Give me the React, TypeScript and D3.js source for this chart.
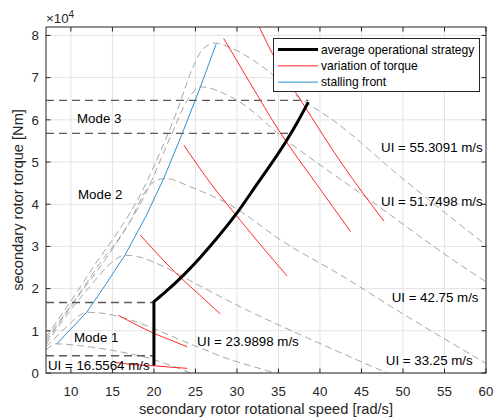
import React from "react";
import * as d3 from "d3";

const W = 497;
const H = 417;
const margin = { left: 46, right: 11, top: 27, bottom: 44 };

const xTicks = [10, 15, 20, 25, 30, 35, 40, 45, 50, 55, 60];
const yTicks = [0, 1, 2, 3, 4, 5, 6, 7, 8];

// [speed rad/s, torque in 10^4 Nm]
const ui16 = [[7, 0.55], [8.3, 0.69], [11, 0.65], [14, 0.57], [17, 0.46], [19.6, 0.34], [22, 0.18], [24.4, 0]];
const ui24 = [[7, 0.62], [9.5, 1.1], [11, 1.36], [11.9, 1.44], [14, 1.41], [17, 1.27], [20, 1.05], [23, 0.8], [26, 0.56], [29, 0.33], [32, 0.15], [34.6, 0]];
const ui33 = [[7, 0.68], [10, 1.5], [12.5, 2.1], [14.8, 2.6], [16.5, 2.79], [18, 2.76], [21.2, 2.52], [25, 2.12], [30.4, 1.57], [40, 0.7], [48.1, 0]];
const ui43 = [[7, 0.74], [11, 1.85], [14, 2.65], [17, 3.55], [19.3, 4.4], [20.5, 4.58], [21.4, 4.61], [24.4, 4.41], [29.2, 3.98], [35.6, 3.11], [42.5, 2.32], [50, 1.4], [60, 0.23]];
const ui52 = [[7, 0.8], [10.8, 1.82], [13.5, 2.6], [16, 3.25], [19, 4.25], [22, 5.6], [24, 6.45], [25.6, 6.78], [29.6, 6.51], [36, 5.51], [46, 4.1], [56.1, 2.67], [60, 2.16]];
const ui55 = [[7, 0.86], [10.4, 1.82], [13, 2.6], [15.5, 3.3], [18.3, 4.2], [20, 4.9], [22.8, 6.22], [24.5, 7.15], [25.6, 7.6], [26.5, 7.77], [27.4, 7.82], [29, 7.73], [32.8, 7.3], [37.65, 6.5], [41.3, 6.03], [50, 4.6], [60, 3.03]];
const uiCurves = [ui16, ui24, ui33, ui43, ui52, ui55];

const torqueVar16 = [[15.3, 0.25], [17.5, 0.2], [20, 0.17], [24, 0.11]];
const torqueVar24 = [[15.7, 1.37], [18, 1.13], [20, 0.94], [22, 0.78], [24, 0.62]];
const torqueVar33 = [[18.35, 3.27], [21, 2.7], [23, 2.3], [25.5, 1.85], [28, 1.4]];
const torqueVar43 = [[23.6, 5.4], [27, 4.45], [30.4, 3.62], [33, 3.0], [36.05, 2.3]];
const torqueVar52 = [[28.4, 7.93], [31.5, 6.9], [35.2, 5.7], [39.5, 4.5], [43.7, 3.35]];
const torqueVar55 = [[32.2, 8.4], [35, 7.3], [37.9, 6.4], [42.5, 5.0], [47.7, 3.6]];
const torqueVars = [torqueVar16, torqueVar24, torqueVar33, torqueVar43, torqueVar52, torqueVar55];

const stallFront = [[8.3, 0.69], [11.9, 1.44], [14.2, 2.1], [16.5, 2.79], [19, 3.7], [21.2, 4.62], [23.4, 5.67], [25.6, 6.78], [27.5, 7.8]];

// vertical start at 20 rad/s, then the curved part
const strategyVertical = [[20, 0.18], [20, 1.69]];
const strategyCurve = [[20, 1.69], [21.15, 1.88], [23.57, 2.32], [25.5, 2.72], [27.4, 3.15], [29.8, 3.74], [32.5, 4.5], [35.85, 5.47], [37.3, 5.95], [38.6, 6.42]];

const modeLevels = [0.41, 1.67, 5.68, 6.46];
const modeEnds = [20, 20, 36.2, 38.6];
const modeNames = ["Mode 1", "Mode 2", "Mode 3"];
const uiNames = ["UI = 16.5564 m/s", "UI = 23.9898 m/s", "UI = 33.25 m/s", "UI = 42.75 m/s", "UI = 51.7498 m/s", "UI = 55.3091 m/s"];
const legendNames = ["average operational strategy", "variation of torque", "stalling front"];

const font = "'Liberation Sans', Arial, Helvetica, sans-serif";
const axisColor = "#262626";

export default function App() {
  const x = d3.scaleLinear().domain([7, 60]).range([margin.left, W - margin.right]);
  const y = d3.scaleLinear().domain([0, 8.2]).range([H - margin.bottom, margin.top]);
  const line = d3.line<number[]>().x(d => x(d[0])).y(d => y(d[1]));
  const smooth = d3.line<number[]>().x(d => x(d[0])).y(d => y(d[1])).curve(d3.curveMonotoneX);
  const x0 = margin.left, x1 = W - margin.right, y0 = H - margin.bottom, y1 = margin.top;

  // label anchors in data space
  const modePos = [[10.38, 0.73], [10.86, 4.12], [10.74, 5.92]];
  const uiPos: [number, number, string][] = [
    [7.24, 0.07, "start"], [25.2, 0.65, "start"], [58.4, 0.19, "end"],
    [59.1, 1.68, "end"], [59.6, 3.96, "end"], [59.6, 5.24, "end"],
  ];
  const legendColors = ["#000000", "#ff2a2a", "#2b8fd6"];
  const legendWidths = [3, 1, 1];

  return (
    <svg width={W} height={H} style={{ position: "absolute", left: 0, top: 0, background: "#fff" }} fontFamily={font}>
      <defs>
        <clipPath id="plot">
          <rect x={x0} y={y1} width={x1 - x0} height={y0 - y1} />
        </clipPath>
      </defs>
      <rect x={0} y={0} width={W} height={H} fill="#fff" />
      {/* grid */}
      <g stroke="#e3e3e3" strokeWidth={1}>
        {xTicks.map(t => <line key={"gx" + t} x1={x(t)} x2={x(t)} y1={y0} y2={y1} />)}
        {yTicks.map(t => <line key={"gy" + t} x1={x0} x2={x1} y1={y(t)} y2={y(t)} />)}
      </g>
      <g clipPath="url(#plot)" fill="none">
        {uiCurves.map((c, i) => (
          <path key={"ui" + i} d={smooth(c) || ""} stroke="#a6a6a6" strokeWidth={1} strokeDasharray="7,4" />
        ))}
        {modeLevels.map((m, i) => (
          <line key={"m" + i} x1={x0} x2={x(modeEnds[i])} y1={y(m)} y2={y(m)} stroke="#5a5a5a" strokeWidth={1.4} strokeDasharray="8,5" />
        ))}
        {torqueVars.map((c, i) => (
          <path key={"tv" + i} d={smooth(c) || ""} stroke="#ff2a2a" strokeWidth={1} />
        ))}
        <path d={line(stallFront) || ""} stroke="#2b8fd6" strokeWidth={1} />
        <path d={(line(strategyVertical) || "") + (smooth(strategyCurve) || "").replace(/^M/, "L")} stroke="#000" strokeWidth={3} strokeLinejoin="round" />
      </g>
      {/* annotations */}
      <g fontSize={13.3} fill="#000">
        {modeNames.map((n, i) => (
          <text key={n} x={x(modePos[i][0])} y={y(modePos[i][1])}>{n}</text>
        ))}
        {uiNames.map((n, i) => (
          <text key={n} x={x(uiPos[i][0])} y={y(uiPos[i][1])} textAnchor={uiPos[i][2]}>{n}</text>
        ))}
      </g>
      {/* axes box and ticks */}
      <g stroke={axisColor} strokeWidth={1} fill="none">
        <rect x={x0} y={y1} width={x1 - x0} height={y0 - y1} />
        {xTicks.map(t => (
          <g key={"tx" + t}>
            <line x1={x(t)} x2={x(t)} y1={y0} y2={y0 - 4.5} />
            <line x1={x(t)} x2={x(t)} y1={y1} y2={y1 + 4.5} />
          </g>
        ))}
        {yTicks.map(t => (
          <g key={"ty" + t}>
            <line x1={x0} x2={x0 + 4.5} y1={y(t)} y2={y(t)} />
            <line x1={x1} x2={x1 - 4.5} y1={y(t)} y2={y(t)} />
          </g>
        ))}
      </g>
      <g fontSize={13.3} fill={axisColor}>
        {xTicks.map(t => (
          <text key={"lx" + t} x={x(t)} y={y0 + 23} textAnchor="middle">{t}</text>
        ))}
        {yTicks.map(t => (
          <text key={"ly" + t} x={x0 - 7} y={y(t) + 4.7} textAnchor="end">{t}</text>
        ))}
        <text x={x0} y={y1 - 4}>×10<tspan fontSize={10} dy={-5}>4</tspan></text>
      </g>
      <text x={(x0 + x1) / 2} y={414} textAnchor="middle" fontSize={14.6} fill={axisColor}>
        secondary rotor rotational speed [rad/s]
      </text>
      <text transform={`translate(23,${(y0 + y1) / 2}) rotate(-90)`} textAnchor="middle" fontSize={14.6} fill={axisColor}>
        secondary rotor torque [Nm]
      </text>
      {/* legend */}
      <g>
        <rect x={273.5} y={38.5} width={206} height={53} fill="#fff" stroke={axisColor} strokeWidth={1} />
        {legendNames.map((n, i) => (
          <g key={n}>
            <line x1={278} x2={318} y1={49.5 + i * 16.3} y2={49.5 + i * 16.3} stroke={legendColors[i]} strokeWidth={legendWidths[i]} />
            <text x={321} y={53.8 + i * 16.3} fontSize={12.1} fill="#000">{n}</text>
          </g>
        ))}
      </g>
    </svg>
  );
}
